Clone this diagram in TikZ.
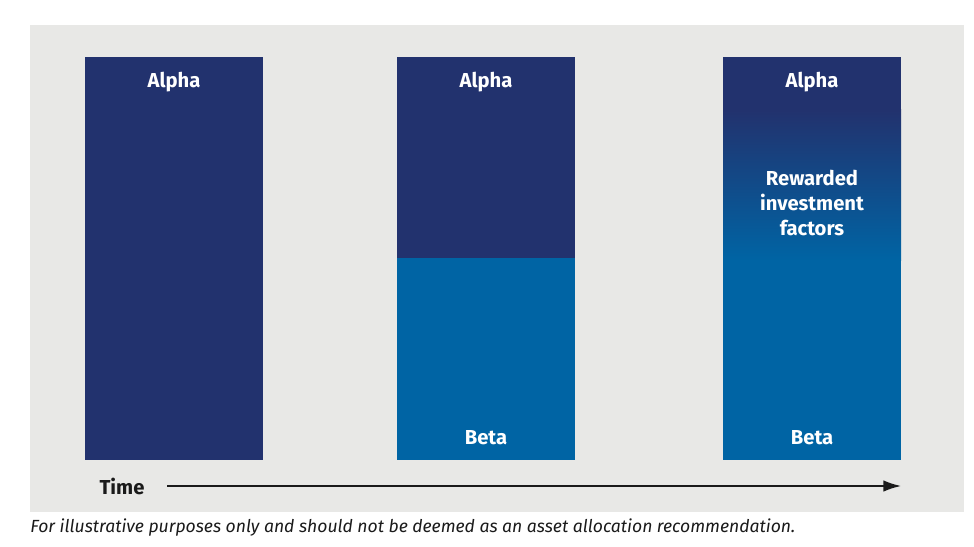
\documentclass[tikz,border=0pt]{standalone}
\usepackage{fontspec}
\setmainfont{Fira Sans}
\usetikzlibrary{arrows.meta}
\definecolor{navy}{HTML}{22326E}
\definecolor{beta}{HTML}{0064A4}
\definecolor{panel}{HTML}{E8E8E6}
\definecolor{ink}{HTML}{1A1A1A}

\begin{document}
\begin{tikzpicture}[x=0.02cm,y=-0.02cm,
  barlabel/.style={text=white,font=\fontsize{11.5}{14}\selectfont\bfseries,align=center,inner sep=0pt},
  axislabel/.style={text=ink,font=\fontsize{11.5}{14}\selectfont\bfseries,inner sep=0pt},
  timeline/.style={ink,line width=0.9pt,-{Latex[length=10pt,width=6.5pt]}}]
\useasboundingbox (0,0) rectangle (974,547);
\fill [white] (0,0) rectangle (974,547);
\fill [panel] (30,25) rectangle (964,512);
% first bar
\fill [navy] (85,57) rectangle (263,460);
\node [barlabel] (alpha1) at (174,82) {Alpha};
% second bar
\fill [navy] (397,57) rectangle (575,258);
\fill [beta] (397,258) rectangle (575,460);
\node [barlabel] (alpha2) at (486,82) {Alpha};
\node [barlabel] (beta2) at (486,438) {Beta};
% third bar
\fill [navy] (723,57) rectangle (901,110.5);
\shade [top color=navy,bottom color=beta] (723,110) rectangle (901,260.5);
\fill [beta] (723,260) rectangle (901,460);
\node [barlabel] (alpha3) at (812,82) {Alpha};
\node [barlabel,font=\fontsize{11.5}{14.4}\selectfont\bfseries] (factors) at (812,203) {Rewarded\\investment\\factors};
\node [barlabel] (beta3) at (812,438) {Beta};
% time axis
\node [axislabel] (time) at (122,486) {Time};
\coordinate (axisL) at (167,486);
\coordinate (axisR) at (901,486);
\draw [timeline] (axisL) -- (axisR);
\node [anchor=west,text=ink,inner sep=0pt,font=\fontsize{10}{12}\selectfont\itshape] (note) at (30,528) {For illustrative purposes only and should not be deemed as an asset allocation recommendation.};
\end{tikzpicture}
\end{document}
